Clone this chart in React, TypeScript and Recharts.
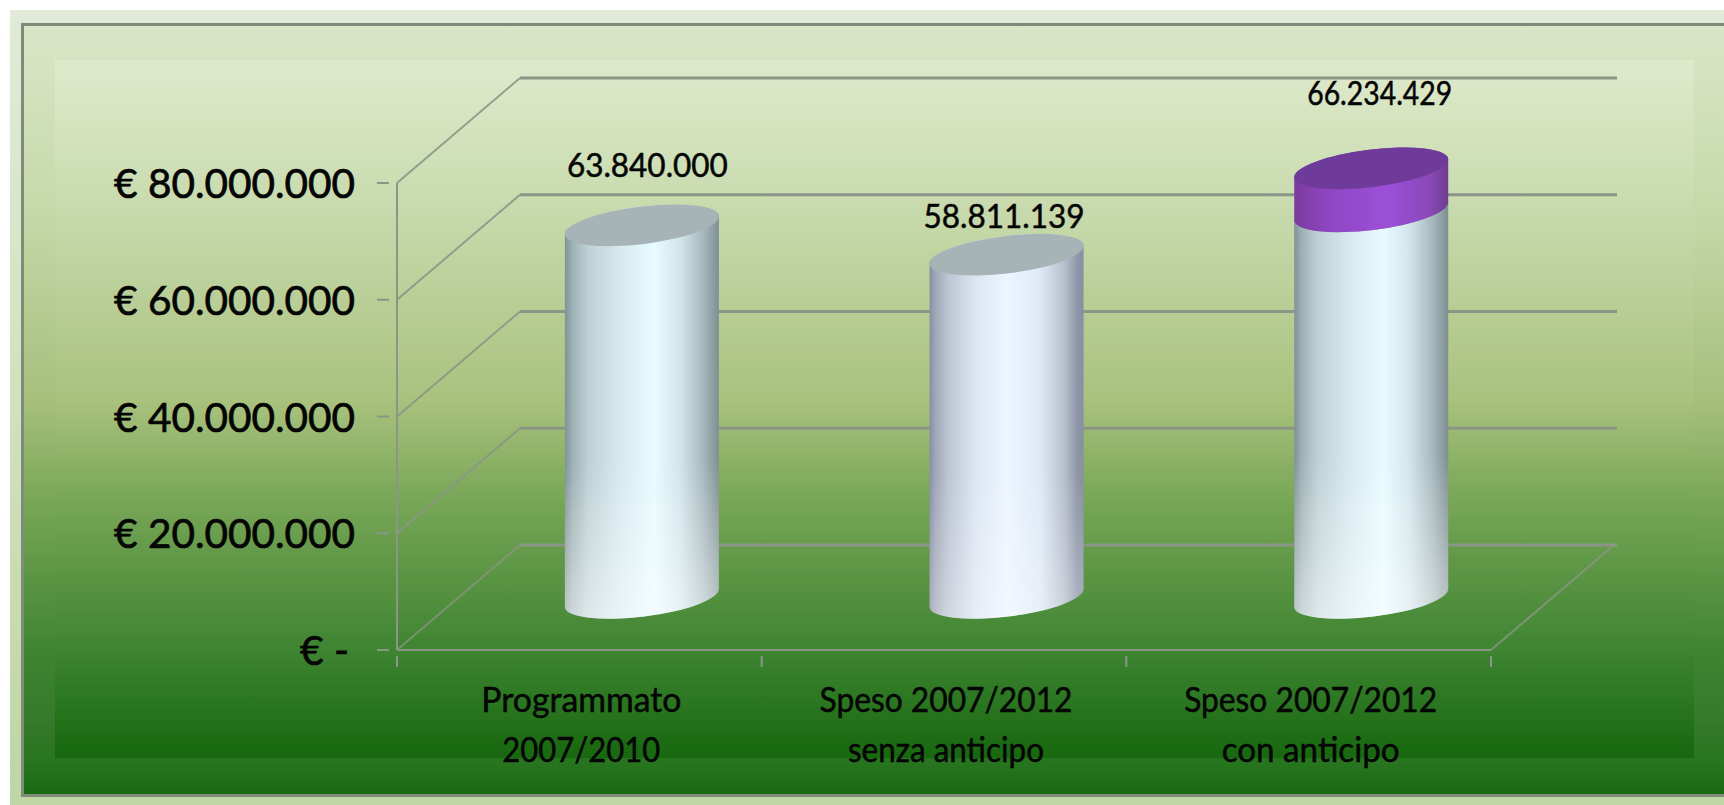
import React from "react";
import { BarChart, Bar, XAxis, YAxis, CartesianGrid, LabelList } from "recharts";

const categories = ["Programmato\n2007/2010", "Speso 2007/2012\nsenza anticipo", "Speso 2007/2012\ncon anticipo"];
const baseValues = [63840000, 58811139, 66234429];
const anticipoValues = [0, 0, 7370000];
const yTicks = [0, 20000000, 40000000, 60000000, 80000000];
const yTickLabels = ["€ -", "€ 20.000.000", "€ 40.000.000", "€ 60.000.000", "€ 80.000.000"];
const dataLabels = ["63.840.000", "58.811.139", "66.234.429"];

const rows = categories.map((name, i) => ({ name, base: baseValues[i], anticipo: anticipoValues[i] }));

const W = 1724, H = 805;
const DEPTH_X = 123, DEPTH_Y = 105;
const PLOT_LEFT = 397, PLOT_RIGHT = 1491, PLOT_BOTTOM = 650;
const BAND = (PLOT_RIGHT - PLOT_LEFT) / categories.length;
const GRID = "#8b9686";
const FONT = "Lato, 'Noto Sans', sans-serif";
const LABEL_SHIFT = [[68, -112], [60, -91], [71, -170]];
const LABEL_WIDTHS = [161, 161, 145];
const CATEGORY_WIDTHS = [[200, 158], [253, 196], [253, 178]];
const TILT = 7;
const RY = 18.7;

const TEAL_STOPS: [number, string][] = [
  [0, "#7f9295"], [5, "#9eb1b5"], [15, "#bdd0d4"], [35, "#d6e9ee"], [58, "#e8fbff"], [75, "#d2e5ea"], [90, "#a6b8bc"], [100, "#7e8f92"],
];
const BLUE_STOPS: [number, string][] = [
  [0, "#868fa2"], [4, "#a0a8b8"], [12, "#bcc4d2"], [30, "#dde6f2"], [50, "#edf5ff"], [72, "#dfe9f5"], [88, "#b5bdca"], [96, "#8e96a8"], [100, "#868fa2"],
];
const PURPLE_STOPS: [number, string][] = [
  [0, "#7c3a9e"], [22, "#8e46c0"], [60, "#9c50d8"], [88, "#8a48b8"], [100, "#6f3f8c"],
];

function Wall(props: any) {
  const { x1, x2, y1 } = props;
  const floor = Math.abs(y1 - PLOT_BOTTOM) < 1;
  const bx = x1 + DEPTH_X, by = y1 - DEPTH_Y;
  return (
    <g>
      <line x1={x1} y1={y1} x2={bx} y2={by} stroke={GRID} strokeWidth={2} strokeOpacity={floor ? 0.75 : 0.9} />
      <line x1={bx} y1={by} x2={x2 + DEPTH_X + 3} y2={by} stroke={GRID} strokeWidth={3} />
      {floor ? <line x1={x2} y1={y1} x2={x2 + DEPTH_X} y2={by} stroke={GRID} strokeWidth={2} strokeOpacity={0.8} /> : null}
    </g>
  );
}

function Cylinder(props: any) {
  const { x, y, width, height, kind, index } = props;
  if (!height || height <= 0) return null;
  const cx = x + width / 2 + 62.5;
  const top = y - 52;
  const bottom = y + height - 52;
  const rad = (TILT * Math.PI) / 180;
  const rx = width / 2 / Math.cos(rad);
  const hw = width / 2;
  const lift = rx * Math.sin(rad);
  const arc = `A ${rx} ${RY} ${-TILT} 0 0`;
  const body = `M ${cx - hw} ${top + lift} L ${cx - hw} ${bottom + lift} ${arc} ${cx + hw} ${bottom - lift} L ${cx + hw} ${top - lift} ${arc} ${cx - hw} ${top + lift} Z`;
  const id = `${kind}-${index}`;
  const purple = kind === "purple";
  const stops = purple ? PURPLE_STOPS : index === 1 ? BLUE_STOPS : TEAL_STOPS;
  return (
    <g>
      <defs>
        <linearGradient id={`${id}-s`} x1="0" x2="1" y1="0" y2="0">
          {stops.map(([o, c]) => (
            <stop key={o} offset={`${o}%`} stopColor={c} />
          ))}
        </linearGradient>
        <linearGradient id={`${id}-v`} x1="0" x2="0" y1="0" y2="1">
          <stop offset="62%" stopColor="#ffffff" stopOpacity={0} />
          <stop offset="100%" stopColor="#ffffff" stopOpacity={purple ? 0 : index === 1 ? 0.3 : 0.5} />
        </linearGradient>
      </defs>
      <path d={body} fill={`url(#${id}-s)`} />
      <path d={body} fill={`url(#${id}-v)`} />
      <ellipse
        cx={cx}
        cy={top}
        rx={rx}
        ry={RY}
        transform={`rotate(${-TILT} ${cx} ${top})`}
        fill={purple ? "#6f3b9b" : "#a6b4b8"}
      />
    </g>
  );
}

function YTick(props: any) {
  const { x, y, index } = props;
  return (
    <g>
      <line x1={x - 12} x2={x} y1={y} y2={y} stroke={GRID} strokeWidth={2} />
      <text
        x={index === 0 ? x - 40 : x - 34}
        y={y + 15}
        textAnchor="end"
        fontFamily={FONT}
        fontSize={40.5}
        fill="#050505"
        stroke="#050505"
        strokeWidth={0.7}
      >
        {yTickLabels[index]}
      </text>
    </g>
  );
}

function XTick(props: any) {
  const { x, y, payload, index } = props;
  const lines = String(payload.value).split("\n");
  const marks = index === 0 ? [x - BAND / 2, x + BAND / 2] : [x + BAND / 2];
  return (
    <g>
      {marks.map((m, i) => (
        <line key={i} x1={m} x2={m} y1={y - 2} y2={y + 9} stroke={GRID} strokeWidth={2} />
      ))}
      {lines.map((line: string, i: number) => (
        <text
          key={line}
          x={x + 2}
          y={y + 54 + i * 50}
          textAnchor="middle"
          textLength={CATEGORY_WIDTHS[index][i]}
          lengthAdjust="spacingAndGlyphs"
          fontFamily={FONT}
          fontSize={34}
          fill="#050505"
          stroke="#050505"
          strokeWidth={0.5}
        >
          {line}
        </text>
      ))}
    </g>
  );
}

function DataLabel(props: any) {
  const { x, y, width, index } = props;
  const [dx, dy] = LABEL_SHIFT[index];
  return (
    <text
      x={x + width / 2 + dx}
      y={y + dy + 12}
      textAnchor="middle"
      textLength={LABEL_WIDTHS[index]}
      lengthAdjust="spacingAndGlyphs"
      fontFamily={FONT}
      fontSize={32}
      fill="#050505"
      stroke="#050505"
      strokeWidth={0.5}
    >
      {dataLabels[index]}
    </text>
  );
}

const bandGradient = "linear-gradient(to bottom, #e2ead8 0, #d5e4c4 300px, #bdd6a3 795px)";
const panelGradient =
  "linear-gradient(to bottom, #d9e6c7 0, #c7d9ab 177px, #a5bf7b 377px, #78a657 477px, #3e8431 627px, #35792a 697px, #27751f 737px, #176610 772px)";
const innerGradient =
  "linear-gradient(to bottom, #dfeacc 0, #c9dbaf 140px, #a9c27e 340px, #78a657 440px, #3e8431 590px, #17680f 698px)";

export default function App() {
  return (
    <div style={{ position: "fixed", left: 0, top: 0, width: W, height: H, background: "#ffffff", overflow: "hidden" }}>
      <div style={{ position: "absolute", left: 10, top: 10, width: W - 10, height: H - 10, background: bandGradient }} />
      <div
        style={{
          position: "absolute", left: 21, top: 23, width: W - 21, height: 774, boxSizing: "border-box",
          borderLeft: "3px solid #7f8c79", borderTop: "3px solid #7f8c79", borderBottom: "3px solid #7f8c79",
          background: panelGradient,
        }}
      />
      <div style={{ position: "absolute", left: 55, top: 60, width: 1639, height: 698, background: innerGradient }} />
      <div style={{ position: "absolute", left: 0, top: 0 }}>
        <BarChart
          width={W}
          height={H}
          data={rows}
          margin={{ left: 97, top: 183, right: W - PLOT_RIGHT, bottom: 55 }}
          barCategoryGap="28.9%"
        >
          <CartesianGrid vertical={false} horizontal={(p: any) => <Wall key={p.index} {...p} />} />
          <XAxis
            dataKey="name"
            height={100}
            interval={0}
            stroke={GRID}
            strokeWidth={2}
            tickLine={false}
            tick={<XTick />}
          />
          <YAxis
            width={300}
            domain={[0, 80000000]}
            ticks={yTicks}
            stroke={GRID}
            strokeWidth={2}
            tickLine={false}
            tick={<YTick />}
            interval={0}
          />
          <Bar dataKey="base" stackId="s" isAnimationActive={false} shape={(p: any) => <Cylinder {...p} kind="white" />}>
            <LabelList dataKey="base" content={(p: any) => <DataLabel {...p} />} />
          </Bar>
          <Bar dataKey="anticipo" stackId="s" isAnimationActive={false} shape={(p: any) => <Cylinder {...p} kind="purple" />} />
        </BarChart>
      </div>
    </div>
  );
}
